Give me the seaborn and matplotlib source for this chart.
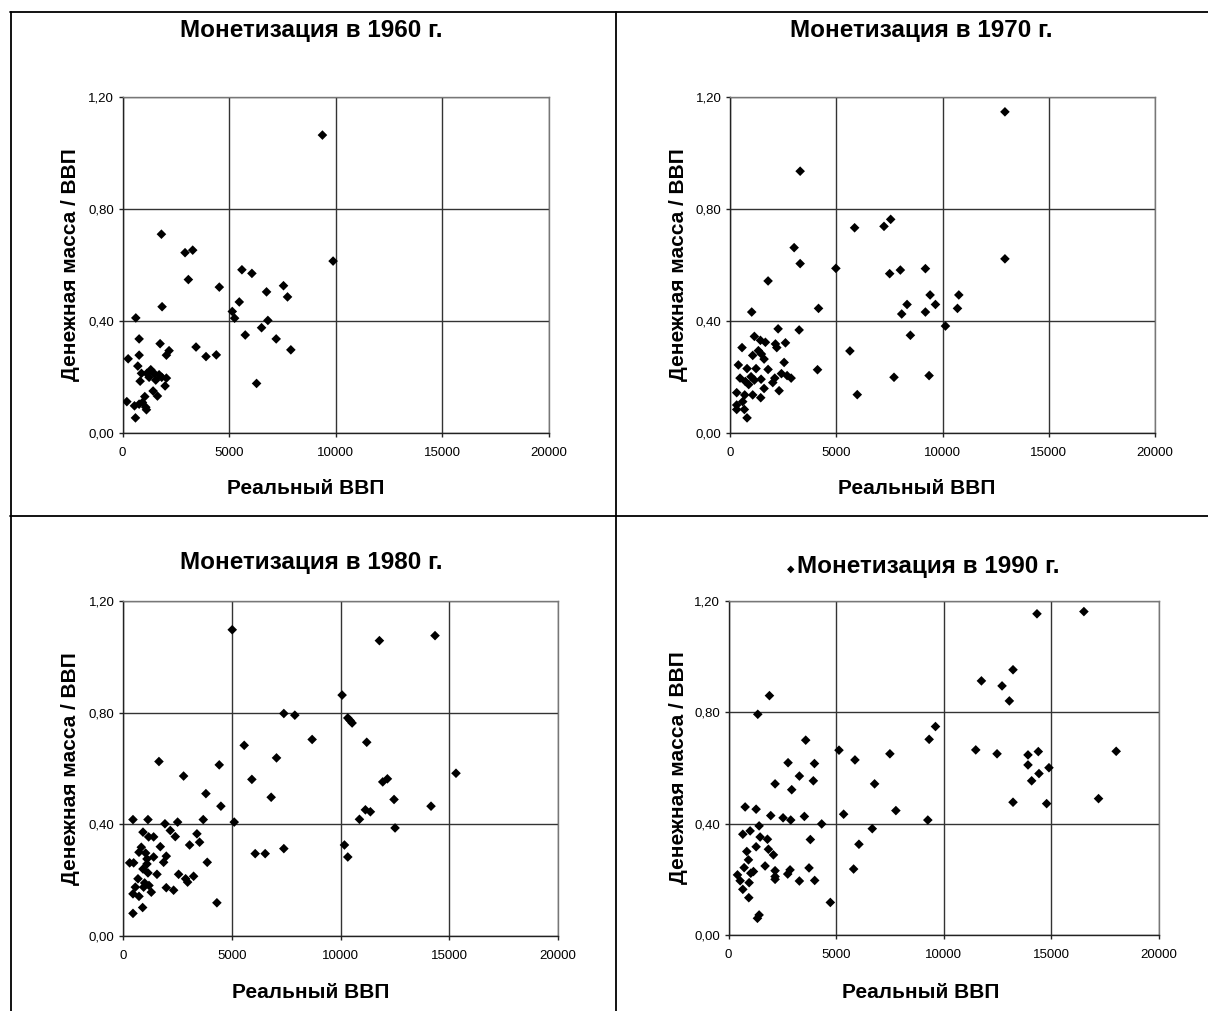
import matplotlib
matplotlib.use("Agg")
import matplotlib.pyplot as plt
from matplotlib.lines import Line2D
from matplotlib.ticker import FixedLocator, FuncFormatter
import seaborn as sns
import pandas as pd

# ---------------- data ----------------
years = ["1960", "1970", "1980", "1990"]
title_tpl = "Монетизация в {} г."
xlabel = "Реальный ВВП"
ylabel = "Денежная масса / ВВП"
x_ticks = [0, 5000, 10000, 15000, 20000]
y_ticks = [0.0, 0.4, 0.8, 1.2]

gdp_1960 = [9375, 9875, 1825, 2933, 3292, 3089, 4540, 5600, 6068, 5476, 6755, 7550, 7738,
            5148, 5257, 6817, 6521, 5756, 7207, 7894, 6287, 1856, 624, 780, 1763, 2184, 2059,
            3448, 3916, 4399, 265, 780, 718, 889, 827, 1326, 1248, 1482, 1716, 1841, 2059,
            1560, 1997, 1435, 1638, 1045, 936, 1123, 1092, 562, 780, 203, 608, 1140]
m_1960 = [1.064, 0.614, 0.710, 0.644, 0.653, 0.548, 0.521, 0.583, 0.570, 0.468, 0.504, 0.526, 0.486,
          0.434, 0.410, 0.402, 0.376, 0.350, 0.336, 0.297, 0.177, 0.451, 0.411, 0.336, 0.319, 0.294, 0.278,
          0.307, 0.273, 0.279, 0.265, 0.278, 0.239, 0.213, 0.185, 0.226, 0.199, 0.213, 0.208, 0.199, 0.196,
          0.189, 0.168, 0.150, 0.132, 0.130, 0.109, 0.083, 0.092, 0.097, 0.103, 0.112, 0.054, 0.213]

gdp_1970 = [12938, 12938, 3301, 3018, 3301, 1792, 1022, 4166, 4983, 5864, 7247, 7561, 7514,
            8017, 9196, 8332, 8080, 9416, 9668, 9196, 10768, 10705, 10139, 8489, 5643, 7718,
            9369, 5989, 4119, 2264, 3254, 566, 1147, 1431, 1666, 2138, 2201, 2610, 1069, 1336,
            1478, 1604, 393, 802, 1226, 1792, 2547, 2421, 2688, 2877, 2107, 2013, 472, 723, 990,
            1147, 1462, 880, 1604, 2311, 315, 692, 1069, 1446, 597, 315, 315, 676, 802]
m_1970 = [1.147, 0.622, 0.935, 0.662, 0.605, 0.543, 0.432, 0.445, 0.588, 0.733, 0.738, 0.763, 0.569,
          0.582, 0.587, 0.459, 0.425, 0.493, 0.459, 0.432, 0.493, 0.445, 0.382, 0.349, 0.293, 0.199,
          0.205, 0.137, 0.226, 0.372, 0.368, 0.305, 0.345, 0.331, 0.324, 0.318, 0.305, 0.322, 0.277, 0.294,
          0.282, 0.264, 0.243, 0.230, 0.230, 0.227, 0.252, 0.212, 0.205, 0.196, 0.196, 0.180, 0.196, 0.184, 0.201,
          0.189, 0.192, 0.173, 0.159, 0.151, 0.144, 0.136, 0.136, 0.126, 0.112, 0.100, 0.084, 0.084, 0.054]

gdp_1980 = [5022, 11789, 14346, 10074, 7395, 7900, 10335, 10442, 10534, 8696, 11206, 5573, 7058,
            1653, 4425, 2786, 15310, 5925, 11942, 12156, 3812, 6812, 12462, 4501, 14162, 11145,
            11374, 10871, 12508, 5114, 10182, 10335, 6078, 6537, 7395, 3873, 4317, 459, 1148,
            1929, 2511, 3690, 2174, 2404, 919, 1179, 1408, 3399, 3521, 3062, 1715, 842, 735, 1041,
            1408, 1990, 1868, 1102, 306, 490, 1102, 919, 689, 1562, 1148, 2557, 2879, 3246, 2970,
            995, 1194, 567, 949, 1990, 2327, 459, 735, 1301, 903, 459]
m_1980 = [1.097, 1.058, 1.076, 0.863, 0.797, 0.791, 0.781, 0.772, 0.763, 0.704, 0.694, 0.683, 0.638,
          0.625, 0.613, 0.573, 0.583, 0.561, 0.552, 0.563, 0.510, 0.497, 0.489, 0.465, 0.465, 0.452,
          0.445, 0.418, 0.387, 0.408, 0.326, 0.283, 0.295, 0.295, 0.313, 0.264, 0.119, 0.417, 0.417,
          0.402, 0.408, 0.417, 0.378, 0.356, 0.372, 0.355, 0.355, 0.366, 0.336, 0.326, 0.320, 0.318, 0.300, 0.297,
          0.283, 0.286, 0.264, 0.276, 0.262, 0.262, 0.258, 0.240, 0.205, 0.221, 0.226, 0.221, 0.205, 0.214, 0.193,
          0.190, 0.181, 0.175, 0.175, 0.173, 0.164, 0.151, 0.142, 0.157, 0.102, 0.081]

gdp_1990 = [14331, 16511, 11750, 12708, 13218, 13048, 1902, 1360, 9322, 9616, 3587, 5133, 7498,
            5875, 2767, 3993, 11487, 12476, 13914, 14393, 13914, 14424, 14888, 14084, 18011, 17191,
            13218, 14780, 3293, 2164, 2937, 3942, 6787, 7776, 5349, 773, 1283, 1963, 2535, 2891,
            3525, 4329, 9260, 6679, 1422, 665, 1005, 1469, 1809, 3803, 6060, 1283, 850, 1855, 2087,
            928, 727, 1700, 1159, 1035, 2164, 2164, 2164, 2860, 2751, 3741, 3293, 4004, 5813, 417,
            541, 959, 665, 943, 4731, 1422, 1345]
m_1990 = [1.154, 1.162, 0.913, 0.895, 0.953, 0.841, 0.860, 0.793, 0.703, 0.749, 0.700, 0.664, 0.651,
          0.629, 0.619, 0.616, 0.665, 0.651, 0.647, 0.659, 0.611, 0.580, 0.601, 0.554, 0.660, 0.490,
          0.477, 0.472, 0.571, 0.543, 0.522, 0.554, 0.543, 0.447, 0.434, 0.460, 0.452, 0.429, 0.421, 0.413,
          0.426, 0.399, 0.413, 0.382, 0.392, 0.362, 0.374, 0.352, 0.344, 0.343, 0.326, 0.317, 0.300, 0.308, 0.288,
          0.270, 0.242, 0.248, 0.228, 0.222, 0.231, 0.210, 0.200, 0.234, 0.219, 0.241, 0.194, 0.196, 0.237, 0.216,
          0.195, 0.188, 0.164, 0.134, 0.117, 0.072, 0.060]

series = {"1960": (gdp_1960, m_1960), "1970": (gdp_1970, m_1970),
          "1980": (gdp_1980, m_1980), "1990": (gdp_1990, m_1990)}

# ---------------- style ----------------
sns.set_style("white")
plt.rcParams["font.family"] = ["Liberation Sans", "DejaVu Sans"]
plt.rcParams["text.color"] = "black"
plt.rcParams["axes.labelcolor"] = "black"
plt.rcParams["xtick.color"] = "black"
plt.rcParams["ytick.color"] = "black"

W, H = 1208, 1011
fig = plt.figure(figsize=(W / 100, H / 100), dpi=100)
fig.patch.set_facecolor("white")

def fx(px):
    return px / W

def fy(py):
    return 1 - py / H

# axes rectangles in pixels: left, top, right, bottom
rects = {"1960": (122.5, 97, 549, 433), "1970": (730, 97, 1155, 433),
         "1980": (123, 601, 558, 936), "1990": (728.5, 601, 1159, 935)}
title_pos = {"1960": (311, 30), "1970": (921, 30), "1980": (311, 562), "1990": (928, 566)}
xlabel_pos = {"1960": (306, 489), "1970": (917, 489), "1980": (311, 993), "1990": (921, 993)}
ylabel_pos = {"1960": 71, "1970": 679, "1980": 71, "1990": 678}

fmt_y = FuncFormatter(lambda v, p: f"{v:.2f}".replace(".", ","))
fmt_x = FuncFormatter(lambda v, p: f"{int(round(v))}")

for yr in years:
    l, t, r, b = rects[yr]
    ax = fig.add_axes([fx(l), fy(b), fx(r) - fx(l), fy(t) - fy(b)])
    gx, my = series[yr]
    df = pd.DataFrame({"gdp": gx, "m": my})
    sns.scatterplot(data=df, x="gdp", y="m", ax=ax, marker="D", s=24,
                    color="black", edgecolor="none", linewidth=0, zorder=3)
    ax.set_xlim(0, 20000)
    ax.set_ylim(0, 1.2)
    ax.xaxis.set_major_locator(FixedLocator(x_ticks))
    ax.yaxis.set_major_locator(FixedLocator(y_ticks))
    ax.xaxis.set_major_formatter(fmt_x)
    ax.yaxis.set_major_formatter(fmt_y)
    ax.grid(True, color="#333333", linewidth=1.0)
    ax.set_axisbelow(True)
    for side, sp in ax.spines.items():
        sp.set_visible(True)
        sp.set_linewidth(1.0)
        sp.set_color("#222222" if side in ("left", "bottom") else "#777777")
    ax.tick_params(axis="both", which="major", direction="out", length=3, width=1,
                   color="#222222", labelsize=9.5, labelcolor="black",
                   left=True, bottom=True)
    ax.tick_params(axis="x", pad=7)
    ax.tick_params(axis="y", pad=3)
    ax.set_xlabel("")
    ax.set_ylabel("")

    tx, ty = title_pos[yr]
    fig.text(fx(tx), fy(ty), title_tpl.format(yr), ha="center", va="center",
             fontsize=17.5, fontweight="bold", color="black")
    lx, ly = xlabel_pos[yr]
    fig.text(fx(lx), fy(ly), xlabel, ha="center", va="center",
             fontsize=15, fontweight="bold", color="black")
    fig.text(fx(ylabel_pos[yr]), fy((t + b) / 2), ylabel, ha="center", va="center",
             rotation=90, fontsize=15, fontweight="bold", color="black")

# stray marker beside the 1990 title
fig.text(fx(791), fy(569), "◆", ha="center", va="center", fontsize=7,
         family=["DejaVu Sans"], color="black")

# outer frame and dividers
frame = [((10.5, 10.5), (12, H)), ((10, W), (12, 12)),
         ((616, 616), (12, H)), ((10, W), (516, 516))]
for xs, ys in frame:
    fig.add_artist(Line2D([fx(xs[0]), fx(xs[1])], [fy(ys[0]), fy(ys[1])],
                          color="black", linewidth=1.3))

fig.savefig("out.png", dpi=100)
